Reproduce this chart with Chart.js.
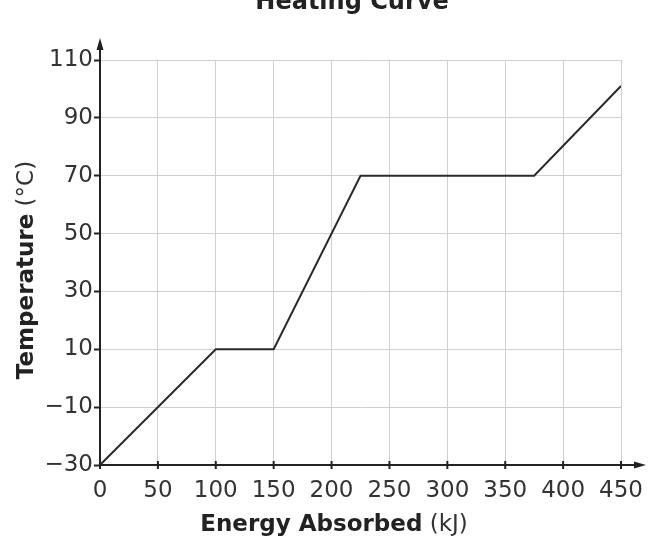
<!DOCTYPE html>
<html>
<head>
<meta charset="utf-8">
<script src="https://cdn.jsdelivr.net/npm/chart.js@4.4.0/dist/chart.umd.min.js"></script>
<style>
  html, body { margin: 0; padding: 0; background: #fff; }
  #wrap { width: 649px; height: 538px; }
</style>
</head>
<body>
<div id="wrap"><canvas id="myChart" width="649" height="538"></canvas></div>
<script>
var energy = [0, 100, 150, 225, 375, 450];
var temperature = [-30, 10, 10, 70, 70, 101];
var xTicks = [0, 50, 100, 150, 200, 250, 300, 350, 400, 450];
var yTicks = [-30, -10, 10, 30, 50, 70, 90, 110];

var points = energy.map(function (e, i) {
    return { x: e, y: temperature[i] };
});

var fontFamily = "'DejaVu Sans', Verdana, sans-serif";

// axis arrows, title and mixed bold/regular axis labels
var decorations = {
    id: "decorations",
    afterDraw: function (chart) {
        var ctx = chart.ctx;
        var a = chart.chartArea;
        ctx.save();
        ctx.strokeStyle = "#222";
        ctx.fillStyle = "#222";
        ctx.lineWidth = 2;
        // y axis line + arrow
        ctx.beginPath();
        ctx.moveTo(a.left, a.bottom);
        ctx.lineTo(a.left, 46);
        ctx.stroke();
        ctx.beginPath();
        ctx.moveTo(a.left, 38);
        ctx.lineTo(a.left - 3.5, 50);
        ctx.lineTo(a.left + 3.5, 50);
        ctx.closePath();
        ctx.fill();
        // x axis line + arrow
        ctx.beginPath();
        ctx.moveTo(a.left, a.bottom);
        ctx.lineTo(636, a.bottom);
        ctx.stroke();
        ctx.beginPath();
        ctx.moveTo(646, a.bottom);
        ctx.lineTo(634, a.bottom - 3.5);
        ctx.lineTo(634, a.bottom + 3.5);
        ctx.closePath();
        ctx.fill();
        // x tick marks crossing the axis
        xTicks.forEach(function (v) {
            var px = chart.scales.x.getPixelForValue(v);
            ctx.beginPath();
            ctx.moveTo(px, a.bottom - 4);
            ctx.lineTo(px, a.bottom + 4);
            ctx.stroke();
        });

        // title (cut at the top like the reference)
        ctx.fillStyle = "#222";
        ctx.textAlign = "center";
        ctx.textBaseline = "alphabetic";
        ctx.font = "bold 24px " + fontFamily;
        ctx.fillText("Heating Curve", 352, 9);

        // x axis title
        drawMixed(ctx, "Energy Absorbed", "(kJ)", 334, 525);
        // y axis title
        ctx.save();
        ctx.translate(27, 270);
        ctx.rotate(-Math.PI / 2);
        drawMixed(ctx, "Temperature", "(°C)", 0, 0);
        ctx.restore();
        ctx.restore();
    }
};

function drawMixed(ctx, boldText, normalText, cx, cy) {
    ctx.textBaseline = "middle";
    ctx.textAlign = "left";
    var bold = "bold 23px " + fontFamily;
    var normal = "23px " + fontFamily;
    ctx.font = bold;
    var w1 = ctx.measureText(boldText).width;
    ctx.font = normal;
    var w2 = ctx.measureText(" " + normalText).width;
    var x0 = cx - (w1 + w2) / 2;
    ctx.font = bold;
    ctx.fillStyle = "#222";
    ctx.fillText(boldText, x0, cy);
    ctx.font = normal;
    ctx.fillStyle = "#333";
    ctx.fillText(" " + normalText, x0 + w1, cy);
}

var ctx = document.getElementById("myChart").getContext("2d");
var myChart = new Chart(ctx, {
    type: "line",
    data: {
        datasets: [
            {
                data: points,
                borderColor: "#2a2a2a",
                borderWidth: 2,
                pointRadius: 0,
                tension: 0,
                fill: false,
            },
        ],
    },
    options: {
        responsive: false,
        animation: false,
        layout: { padding: { top: 60, right: 28, left: 0, bottom: 0 } },
        plugins: {
            legend: { display: false },
            tooltip: { enabled: false },
        },
        scales: {
            x: {
                type: "linear",
                min: 0,
                max: 450,
                afterBuildTicks: function (scale) {
                    scale.ticks = xTicks.map(function (v) { return { value: v }; });
                },
                afterFit: function (scale) {
                    scale.height = 73;
                    scale.paddingLeft = 0;
                    scale.paddingRight = 0;
                },
                grid: {
                    color: "#d0d0d0",
                    lineWidth: 1,
                    drawTicks: false,
                },
                border: { display: false },
                ticks: {
                    color: "#333",
                    font: { family: fontFamily, size: 23 },
                    padding: 12,
                    maxRotation: 0,
                },
            },
            y: {
                min: -30,
                max: 110,
                afterBuildTicks: function (scale) {
                    scale.ticks = yTicks.map(function (v) { return { value: v }; });
                },
                afterFit: function (scale) {
                    scale.width = 100;
                    scale.paddingTop = 0;
                    scale.paddingBottom = 0;
                },
                grid: {
                    color: "#d0d0d0",
                    lineWidth: 1,
                    drawTicks: true,
                    tickLength: 6,
                    tickColor: "#222",
                    tickWidth: 2,
                },
                border: { display: false },
                ticks: {
                    color: "#333",
                    font: { family: fontFamily, size: 23 },
                    padding: 1,
                    callback: function (v) {
                        return v < 0 ? "\u2212" + Math.abs(v) : String(v);
                    },
                },
            },
        },
    },
    plugins: [decorations],
});
</script>
</body>
</html>
